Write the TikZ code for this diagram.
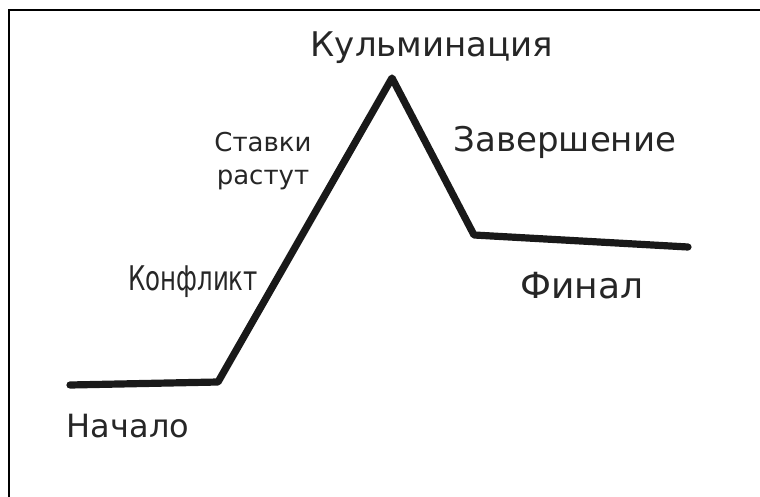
\documentclass[tikz,border=0pt]{standalone}
\usepackage{fontspec}
\setmainfont{DejaVu Sans}
\begin{document}
\begin{tikzpicture}[x=0.5pt, y=-0.5pt,
        plot line/.style={line width=3.6pt, color=black!90, line cap=round, line join=round},
        stage/.style={font=\fontsize{17}{20}\selectfont, text=black!85, inner sep=0pt}]
    \useasboundingbox (0,0) rectangle (760,497);
    \draw[line width=1pt] (9,497) -- (9,10) -- (760,10);
    % points of the curve
    \coordinate (start) at (70,385);
    \coordinate (rise) at (218,382);
    \coordinate (peak) at (392,78);
    \coordinate (fall) at (474,235);
    \coordinate (finish) at (688,247);
    \draw[plot line] (start) -- (rise) -- (peak) -- (fall) -- (finish);
    % labels
    \node[stage] (climax) at (432,48) {Кульминация};
    \node[stage, font=\fontsize{13}{16.5}\selectfont, align=center] (stakes) at (263,161) {Ставки\\растут};
    \node[stage] (ending) at (565,142) {Завершение};
    \node[stage] (conflict) at (193,282) {\scalebox{0.72}[1]{Конфликт}};
    \node[stage, font=\fontsize{18}{20}\selectfont] (final) at (582,286) {Финал};
    \node[stage, font=\fontsize{16}{20}\selectfont] (begin) at (128,426) {Начало};
\end{tikzpicture}
\end{document}
